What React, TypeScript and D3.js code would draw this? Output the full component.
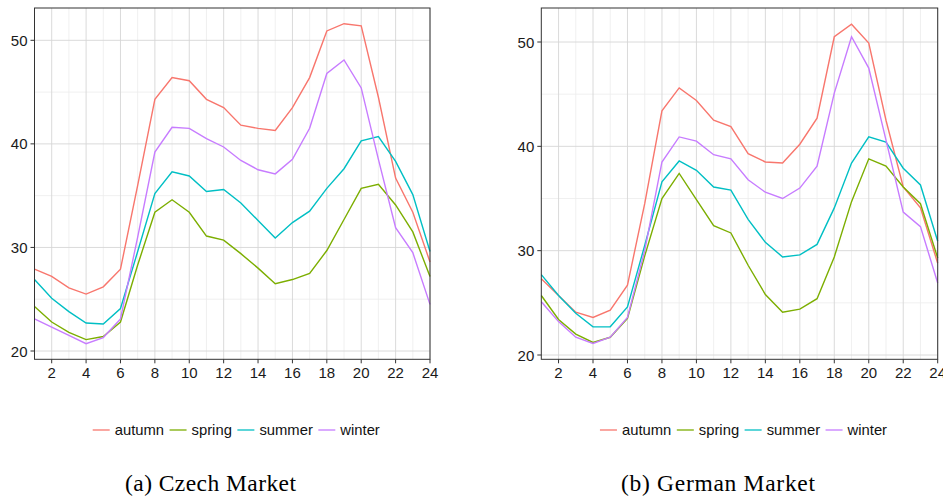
import React, { useEffect, useRef } from "react";
import * as d3 from "d3";

const hours = d3.range(1, 25);
const seasons = ["autumn", "spring", "summer", "winter"];
const colors = ["#F8766D", "#7CAE00", "#00BFC4", "#C77CFF"];

// Czech market, hourly averages per season
const czAutumn = [27.9, 27.2, 26.1, 25.5, 26.2, 27.9, 36.0, 44.3, 46.4, 46.1, 44.3, 43.5, 41.8, 41.5, 41.3, 43.5, 46.4, 50.9, 51.6, 51.4, 44.5, 36.7, 33.4, 28.6];
const czSpring = [24.3, 22.8, 21.8, 21.1, 21.4, 22.8, 28.3, 33.4, 34.6, 33.4, 31.1, 30.7, 29.4, 28.0, 26.5, 26.9, 27.5, 29.7, 32.7, 35.7, 36.1, 34.1, 31.5, 27.2];
const czSummer = [26.9, 25.1, 23.8, 22.7, 22.6, 24.1, 29.6, 35.2, 37.3, 36.9, 35.4, 35.6, 34.3, 32.6, 30.9, 32.4, 33.5, 35.7, 37.6, 40.3, 40.7, 38.3, 35.1, 29.6];
const czWinter = [23.1, 22.3, 21.5, 20.7, 21.3, 23.1, 31.0, 39.2, 41.6, 41.5, 40.5, 39.7, 38.4, 37.5, 37.1, 38.5, 41.5, 46.8, 48.1, 45.4, 38.5, 31.9, 29.5, 24.5];

// German market
const deAutumn = [27.3, 25.7, 24.1, 23.6, 24.3, 26.7, 34.5, 43.4, 45.6, 44.4, 42.5, 41.9, 39.3, 38.5, 38.4, 40.2, 42.7, 50.5, 51.7, 49.9, 42.5, 36.1, 34.1, 28.8];
const deSpring = [25.7, 23.4, 22.0, 21.2, 21.7, 23.5, 29.5, 35.0, 37.4, 34.9, 32.4, 31.7, 28.6, 25.8, 24.1, 24.4, 25.4, 29.4, 34.7, 38.8, 38.1, 36.1, 34.5, 29.3];
const deSummer = [27.7, 25.7, 24.0, 22.7, 22.7, 24.6, 30.5, 36.6, 38.6, 37.7, 36.1, 35.8, 33.0, 30.8, 29.4, 29.6, 30.6, 34.1, 38.4, 40.9, 40.4, 37.9, 36.3, 30.9];
const deWinter = [25.1, 23.2, 21.7, 21.1, 21.7, 23.6, 30.0, 38.5, 40.9, 40.5, 39.2, 38.8, 36.8, 35.6, 35.0, 36.0, 38.1, 45.1, 50.5, 47.5, 40.6, 33.7, 32.3, 26.9];

const xTicks = [2, 4, 6, 8, 10, 12, 14, 16, 18, 20, 22, 24];
const yTicks = [20, 30, 40, 50];

const panels = [
  { series: [czAutumn, czSpring, czSummer, czWinter], caption: "(a) Czech Market", x0: 34.5, x1: 430, y20: 351, y50: 40.3, capX: 125, capW: 171 },
  { series: [deAutumn, deSpring, deSummer, deWinter], caption: "(b) German Market", x0: 541.3, x1: 937.7, y20: 355, y50: 42, capX: 621, capW: 194 },
];

const App: React.FC = () => {
  const svgRef = useRef<SVGSVGElement | null>(null);

  useEffect(() => {
    const width = 943;
    const height = 497;
    const top = 8;
    const bottom = 359.3;
    const sans = "Liberation Sans, Arial, sans-serif";

    d3.select(svgRef.current).selectAll("*").remove();
    const svg = d3.select(svgRef.current).attr("width", width).attr("height", height);

    panels.forEach((p) => {
      const x = d3.scaleLinear().domain([1, 24]).range([p.x0, p.x1]);
      const y = d3.scaleLinear().domain([20, 50]).range([p.y20, p.y50]);
      const g = svg.append("g");

      // minor grid
      g.selectAll("line.vminor")
        .data(d3.range(3, 24, 2))
        .join("line")
        .attr("x1", (d) => x(d)).attr("x2", (d) => x(d))
        .attr("y1", top).attr("y2", bottom)
        .attr("stroke", "#ececec").attr("stroke-width", 0.8);
      g.selectAll("line.hminor")
        .data([25, 35, 45])
        .join("line")
        .attr("x1", p.x0).attr("x2", p.x1)
        .attr("y1", (d) => y(d)).attr("y2", (d) => y(d))
        .attr("stroke", "#ececec").attr("stroke-width", 0.8);
      // major grid
      g.selectAll("line.vmajor")
        .data(xTicks)
        .join("line")
        .attr("x1", (d) => x(d)).attr("x2", (d) => x(d))
        .attr("y1", top).attr("y2", bottom)
        .attr("stroke", "#d6d6d6").attr("stroke-width", 0.9);
      g.selectAll("line.hmajor")
        .data(yTicks)
        .join("line")
        .attr("x1", p.x0).attr("x2", p.x1)
        .attr("y1", (d) => y(d)).attr("y2", (d) => y(d))
        .attr("stroke", "#d6d6d6").attr("stroke-width", 0.9);

      const line = d3.line<number>().x((_, i) => x(hours[i])).y((d) => y(d));
      p.series.forEach((s, i) => {
        g.append("path")
          .attr("d", line(s))
          .attr("fill", "none")
          .attr("stroke", colors[i])
          .attr("stroke-width", 1.4);
      });

      g.append("rect")
        .attr("x", p.x0).attr("y", top)
        .attr("width", p.x1 - p.x0).attr("height", bottom - top)
        .attr("fill", "none").attr("stroke", "#333").attr("stroke-width", 1);

      // axes
      yTicks.forEach((t) => {
        g.append("line").attr("x1", p.x0 - 4).attr("x2", p.x0).attr("y1", y(t)).attr("y2", y(t)).attr("stroke", "#333");
        g.append("text").attr("x", p.x0 - 7).attr("y", y(t) + 5.5)
          .attr("text-anchor", "end").attr("font-family", sans)
          .attr("font-size", 15).attr("fill", "#1a1a1a").text(t);
      });
      xTicks.forEach((t) => {
        g.append("line").attr("x1", x(t)).attr("x2", x(t)).attr("y1", bottom).attr("y2", bottom + 4).attr("stroke", "#333");
        g.append("text").attr("x", x(t)).attr("y", bottom + 18.5)
          .attr("text-anchor", "middle").attr("font-family", sans)
          .attr("font-size", 15).attr("fill", "#1a1a1a").text(t);
      });

      // legend
      const lg = g.append("g");
      let cx = 0;
      seasons.forEach((s, i) => {
        lg.append("line").attr("x1", cx).attr("x2", cx + 17).attr("y1", 0).attr("y2", 0)
          .attr("stroke", colors[i]).attr("stroke-width", 1.6).attr("opacity", 0.8);
        const txt = lg.append("text").attr("x", cx + 22).attr("y", 5)
          .attr("font-family", sans)
          .attr("font-size", 14.8).attr("fill", "#111").text(s);
        const w = (txt.node() as SVGTextElement).getComputedTextLength();
        cx += 22 + w + 5.5;
      });
      const total = cx - 5.5;
      const center = (p.x0 + p.x1) / 2 + 4;
      lg.attr("transform", `translate(${center - total / 2},430)`);

      // caption
      svg.append("text").attr("x", p.capX).attr("y", 491)
        .attr("font-family", "Liberation Serif, serif")
        .attr("font-size", 23.5).attr("fill", "#000")
        .attr("textLength", p.capW).attr("lengthAdjust", "spacing")
        .text(p.caption);
    });
  }, []);

  return <svg ref={svgRef} style={{ position: "absolute", left: 0, top: 0 }}></svg>;
};

export default App;
